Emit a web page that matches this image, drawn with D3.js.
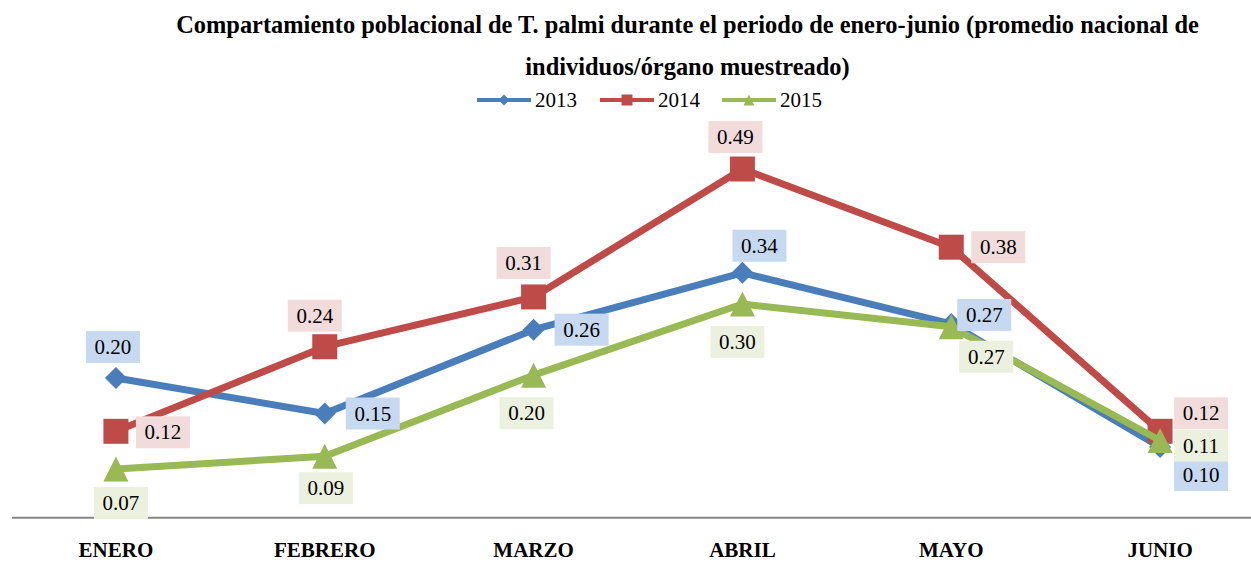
<!DOCTYPE html>
<html>
<head>
<meta charset="utf-8">
<script src="https://cdn.jsdelivr.net/npm/d3@7"></script>
<style>
  html, body { margin: 0; padding: 0; background: #fff; }
  svg { display: block; }
</style>
</head>
<body>
<svg id="chart" width="1251" height="562"></svg>
<script>
// ---- data ----
const categories = ["ENERO", "FEBRERO", "MARZO", "ABRIL", "MAYO", "JUNIO"];
const seriesNames = ["2013", "2014", "2015"];
const values2013 = [0.196, 0.146, 0.264, 0.344, 0.272, 0.099];
const values2014 = [0.121, 0.240, 0.310, 0.490, 0.380, 0.121];
const values2015 = [0.068, 0.086, 0.200, 0.300, 0.268, 0.108];
const titleLines = [
  "Compartamiento poblacional de T. palmi durante el periodo de enero-junio (promedio nacional de",
  "individuos/órgano muestreado)"
];

// ---- label placement (style, offsets of label box centre from marker) ----
const labelOffsets2013 = [[-3, -31], [48, 0], [48, 0], [17, -27], [33, -9], [41, 28]];
const labelOffsets2014 = [[47, 1], [-10, -31], [-10, -34], [-7, -32], [47, 0], [41, -18]];
const labelOffsets2015 = [[5, 34], [1, 32], [-7, 38], [-5, 38], [35, 30], [41, 5]];

const series = [
  { name: seriesNames[0], values: values2013, color: "#4A7EBB", light: "#C6D9F1", shape: "diamond", offs: labelOffsets2013 },
  { name: seriesNames[1], values: values2014, color: "#BE4B48", light: "#F2DCDB", shape: "square",  offs: labelOffsets2014 },
  { name: seriesNames[2], values: values2015, color: "#98B954", light: "#EBF1DE", shape: "triangle", offs: labelOffsets2015 }
];

const svg = d3.select("#chart");
const serif = "'Liberation Serif', 'Times New Roman', serif";

const x = d3.scaleBand().domain(categories).range([11.5, 1264.5]).paddingInner(0).paddingOuter(0);
const cx = d => x(d) + x.bandwidth() / 2;
const y = d3.scaleLinear().domain([0, 0.6]).range([517.3, 517.3 - 0.6 * 710.8]);

// ---- title ----
const title = svg.append("g");
const t1 = title.append("text").attr("x", 687.5).attr("y", 33).attr("text-anchor", "middle")
  .style("font-family", serif).style("font-weight", "bold").style("font-size", "21px").attr("fill", "#000")
  .text(titleLines[0]);
const w1 = t1.node().getComputedTextLength();
const fs = Math.max(16, Math.min(26, 21 * 1023 / w1));
t1.style("font-size", fs + "px");
title.append("text").attr("x", 687.5).attr("y", 75).attr("text-anchor", "middle")
  .style("font-family", serif).style("font-weight", "bold").style("font-size", fs + "px").attr("fill", "#000")
  .text(titleLines[1]);

// ---- axis ----
const axisG = svg.append("g").attr("transform", `translate(0,${y(0)})`)
  .call(d3.axisBottom(x).tickSizeInner(0).tickSizeOuter(0));
axisG.select(".domain").attr("stroke", "#868686").attr("stroke-width", 2);
axisG.selectAll(".tick text")
  .attr("y", 40).attr("dy", 0)
  .style("font-family", serif).style("font-weight", "bold").style("font-size", "21px").attr("fill", "#000");

// ---- marker path generator ----
function markerPath(shape, s) {
  const h = s / 2;
  if (shape === "diamond") return `M0,${-h}L${h},0L0,${h}L${-h},0Z`;
  if (shape === "square") return `M${-h},${-h}H${h}V${h}H${-h}Z`;
  return `M0,${-h}L${h},${h}L${-h},${h}Z`;
}
const markerSize = { diamond: 22, square: 25, triangle: 25 };

// ---- lines + markers ----
const line = d3.line().x((d, i) => cx(categories[i])).y(d => y(d));
series.forEach(s => {
  const g = svg.append("g");
  g.append("path").datum(s.values).attr("d", line)
    .attr("fill", "none").attr("stroke", s.color).attr("stroke-width", 7)
    .attr("stroke-linejoin", "round").attr("stroke-linecap", "round");
  g.selectAll("path.mk").data(s.values).join("path").attr("class", "mk")
    .attr("transform", (d, i) => `translate(${cx(categories[i])},${y(d)})`)
    .attr("d", markerPath(s.shape, markerSize[s.shape]))
    .attr("fill", s.color);
});

// ---- data labels ----
const fmt = d3.format(".2f");
const boxW = 54, boxH = 32;
series.forEach(s => {
  const g = svg.append("g");
  s.values.forEach((v, i) => {
    const px = cx(categories[i]) + s.offs[i][0];
    const py = y(v) + s.offs[i][1];
    g.append("rect").attr("x", px - boxW / 2).attr("y", py - boxH / 2)
      .attr("width", boxW).attr("height", boxH).attr("fill", s.light);
    g.append("text").attr("x", px).attr("y", py + 7).attr("text-anchor", "middle")
      .style("font-family", serif).style("font-size", "21px").attr("fill", "#000")
      .text(fmt(v));
  });
});

// ---- legend ----
const legendStarts = [477, 600, 722];
const legY = 100;
const legendSize = { diamond: 11, square: 11, triangle: 11 };
series.forEach((s, k) => {
  const g = svg.append("g").attr("transform", `translate(${legendStarts[k]},${legY})`);
  g.append("line").attr("x1", 0).attr("x2", 54).attr("y1", 0).attr("y2", 0)
    .attr("stroke", s.color).attr("stroke-width", 4);
  g.append("path").attr("transform", "translate(27,0)")
    .attr("d", markerPath(s.shape, legendSize[s.shape])).attr("fill", s.color);
  g.append("text").attr("x", 58).attr("y", 7)
    .style("font-family", serif).style("font-size", "21px").attr("fill", "#000")
    .text(s.name);
});
</script>
</body>
</html>
